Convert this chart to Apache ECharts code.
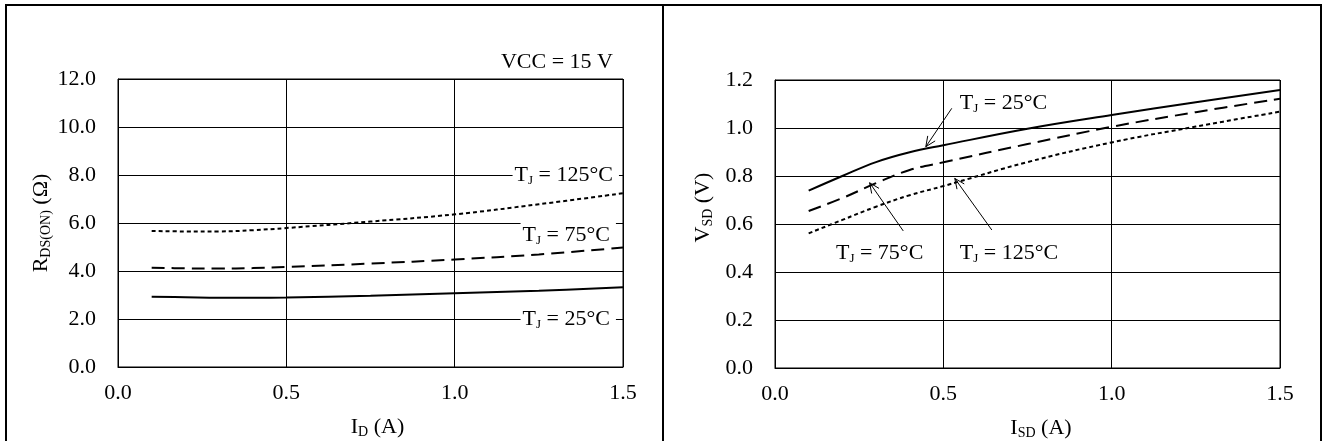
<!DOCTYPE html>
<html><head><meta charset="utf-8">
<script src="https://cdn.jsdelivr.net/npm/echarts@6/dist/echarts.min.js"></script>
<style>html,body{margin:0;padding:0;background:#fff}#c{width:1322px;height:441px}</style>
</head><body><div id="c"></div>
<script>
// ---------- data ----------
const idValues   = [0.1, 0.2, 0.3, 0.4, 0.5, 0.75, 1.0, 1.25, 1.5];
const rdsTj25    = [2.93, 2.91, 2.89, 2.89, 2.90, 2.97, 3.07, 3.18, 3.32];
const rdsTj75    = [4.14, 4.11, 4.10, 4.12, 4.17, 4.31, 4.48, 4.69, 4.98];
const rdsTj125   = [5.67, 5.65, 5.65, 5.70, 5.79, 6.06, 6.36, 6.78, 7.24];

const isdValues  = [0.1, 0.2, 0.3, 0.4, 0.5, 0.75, 1.0, 1.25, 1.5];
const vsdTj25    = [0.739, 0.800, 0.858, 0.899, 0.928, 0.997, 1.054, 1.107, 1.158];
const vsdTj75    = [0.654, 0.708, 0.770, 0.825, 0.857, 0.933, 1.005, 1.066, 1.122];
const vsdTj125   = [0.561, 0.617, 0.672, 0.720, 0.758, 0.858, 0.940, 1.006, 1.068];

const currentTicks = [0.0, 0.5, 1.0, 1.5];
const rdsTicks     = [0.0, 2.0, 4.0, 6.0, 8.0, 10.0, 12.0];
const vsdTicks     = [0.0, 0.2, 0.4, 0.6, 0.8, 1.0, 1.2];
const tempLabels   = ['25', '75', '125'];
const conditionText = 'VCC = 15 V';

// ---------- annotation anchors (data coordinates) ----------
const rdsLabelAnchor = [[1.479, 2.0], [1.479, 5.5], [1.488, 8.0]];
// [labelX, labelY, arrowFromX, arrowFromY, arrowToX, arrowToY]
const vsdAnnot = [
  [0.549, 1.103, 0.525, 1.082, 0.448, 0.922],
  [0.181, 0.478, 0.381, 0.571, 0.281, 0.772],
  [0.549, 0.478, 0.644, 0.575, 0.534, 0.790]
];

const FONT = 'Liberation Serif';
const FS = 22;
const RICH = {
  t: {fontFamily: FONT, fontSize: FS, color: '#000', lineHeight: 24, verticalAlign: 'middle'},
  s: {fontFamily: FONT, fontSize: 13, color: '#000', lineHeight: 14, verticalAlign: 'bottom'},
  n: {fontFamily: FONT, fontSize: FS, color: '#000', lineHeight: 24, verticalAlign: 'middle'},
  m: {fontFamily: FONT, fontSize: 14, color: '#000', lineHeight: 14, verticalAlign: 'bottom'}
};
const tjText = t => '{t|T}{s|J}{t| = ' + t + '°C}';
const pairs = (xs, ys) => xs.map((x, i) => [x, ys[i]]);
const step = a => +(a[1] - a[0]).toFixed(6);

function xAxisCfg(idx, name, padLeft) {
  return {
    type: 'value', gridIndex: idx,
    min: currentTicks[0], max: currentTicks[currentTicks.length - 1], interval: step(currentTicks),
    name: name, nameLocation: 'middle', nameGap: 48,
    nameTextStyle: {rich: RICH, padding: [0, 0, 0, padLeft]},
    axisLine: {show: true, lineStyle: {color: '#000', width: 1}},
    axisTick: {show: false},
    axisLabel: {color: '#000', fontFamily: FONT, fontSize: FS, margin: 15, formatter: v => v.toFixed(1)},
    splitLine: {show: true, lineStyle: {color: '#000', width: 1}}
  };
}
function yAxisCfg(idx, ticks, name, gap, padLeft) {
  return {
    type: 'value', gridIndex: idx,
    min: ticks[0], max: ticks[ticks.length - 1], interval: step(ticks),
    name: name, nameLocation: 'middle', nameGap: gap, nameRotate: 90,
    nameTextStyle: {rich: RICH, padding: [0, 0, 0, padLeft]},
    axisLine: {show: true, lineStyle: {color: '#000', width: 1}},
    axisTick: {show: false},
    axisLabel: {color: '#000', fontFamily: FONT, fontSize: FS, margin: 22, formatter: v => v.toFixed(1)},
    splitLine: {show: true, lineStyle: {color: '#000', width: 1}}
  };
}
function lineSeries(idx, xs, ys, dash, width) {
  return {
    type: 'line', xAxisIndex: idx, yAxisIndex: idx,
    data: pairs(xs, ys), showSymbol: false, symbol: 'none', smooth: 0.4,
    lineStyle: {color: '#000', width: width, type: dash}, z: 3, silent: true
  };
}

const chart = echarts.init(document.getElementById('c'), null, {renderer: 'canvas'});
chart.setOption({
  animation: false,
  backgroundColor: '#fff',
  title: {
    text: conditionText, right: 709, top: 51, padding: 0,
    textStyle: {fontFamily: FONT, fontSize: FS, fontWeight: 'normal', color: '#000'}
  },
  grid: [
    {left: 118, top: 79, width: 505, height: 288, show: true, borderColor: '#000', borderWidth: 1, containLabel: false, outerBoundsMode: 'none'},
    {left: 775, top: 80, width: 505, height: 288, show: true, borderColor: '#000', borderWidth: 1, containLabel: false, outerBoundsMode: 'none'}
  ],
  xAxis: [
    xAxisCfg(0, '{n|I}{m|D}{n| (A)}', 14),
    xAxisCfg(1, '{n|I}{m|SD}{n| (A)}', 27)
  ],
  yAxis: [
    yAxisCfg(0, rdsTicks, '{n|R}{m|DS(ON)}{n| (Ω)}', 62, 0),
    yAxisCfg(1, vsdTicks, '{n|V}{m|SD}{n| (V)}', 60, 33)
  ],
  graphic: [
    {type: 'line', shape: {x1: 5, y1: 5, x2: 1322, y2: 5}, style: {stroke: '#000', lineWidth: 2}, silent: true},
    {type: 'line', shape: {x1: 6, y1: 4, x2: 6, y2: 441}, style: {stroke: '#000', lineWidth: 2}, silent: true},
    {type: 'line', shape: {x1: 663, y1: 4, x2: 663, y2: 441}, style: {stroke: '#000', lineWidth: 2}, silent: true},
    {type: 'line', shape: {x1: 1321, y1: 4, x2: 1321, y2: 441}, style: {stroke: '#000', lineWidth: 2}, silent: true}
  ],
  series: [
    lineSeries(0, idValues, rdsTj25, 'solid', 2),
    lineSeries(0, idValues, rdsTj75, [13, 7], 2),
    lineSeries(0, idValues, rdsTj125, [4, 3], 2),
    lineSeries(1, isdValues, vsdTj25, 'solid', 2),
    lineSeries(1, isdValues, vsdTj75, [13, 7], 2),
    lineSeries(1, isdValues, vsdTj125, [4, 3], 2),
    {
      type: 'custom', xAxisIndex: 0, yAxisIndex: 0, z: 5, silent: true, clip: false,
      data: rdsLabelAnchor,
      renderItem: (params, api) => {
        const p = api.coord([api.value(0), api.value(1)]);
        return {
          type: 'text', x: p[0], y: p[1],
          style: {
            text: tjText(tempLabels[params.dataIndex]), rich: RICH,
            align: 'right', verticalAlign: 'middle',
            backgroundColor: '#fff', padding: [0, 6, 0, 2]
          }
        };
      }
    },
    {
      type: 'custom', xAxisIndex: 1, yAxisIndex: 1, z: 5, silent: true, clip: false,
      data: vsdAnnot,
      renderItem: (params, api) => {
        const lab = api.coord([api.value(0), api.value(1)]);
        const from = api.coord([api.value(2), api.value(3)]);
        const to = api.coord([api.value(4), api.value(5)]);
        const ang = Math.atan2(to[1] - from[1], to[0] - from[0]);
        const L = 11, A = 0.42;
        const h1 = [to[0] - L * Math.cos(ang - A), to[1] - L * Math.sin(ang - A)];
        const h2 = [to[0] - L * Math.cos(ang + A), to[1] - L * Math.sin(ang + A)];
        return {
          type: 'group',
          children: [
            {type: 'line', shape: {x1: from[0], y1: from[1], x2: to[0], y2: to[1]}, style: {stroke: '#000', lineWidth: 1}},
            {type: 'polyline', shape: {points: [h1, to, h2]}, style: {stroke: '#000', lineWidth: 1, fill: 'none'}},
            {type: 'text', x: lab[0], y: lab[1], style: {text: tjText(tempLabels[params.dataIndex]), rich: RICH, align: 'left', verticalAlign: 'middle'}}
          ]
        };
      }
    }
  ]
});
</script>
</body></html>
